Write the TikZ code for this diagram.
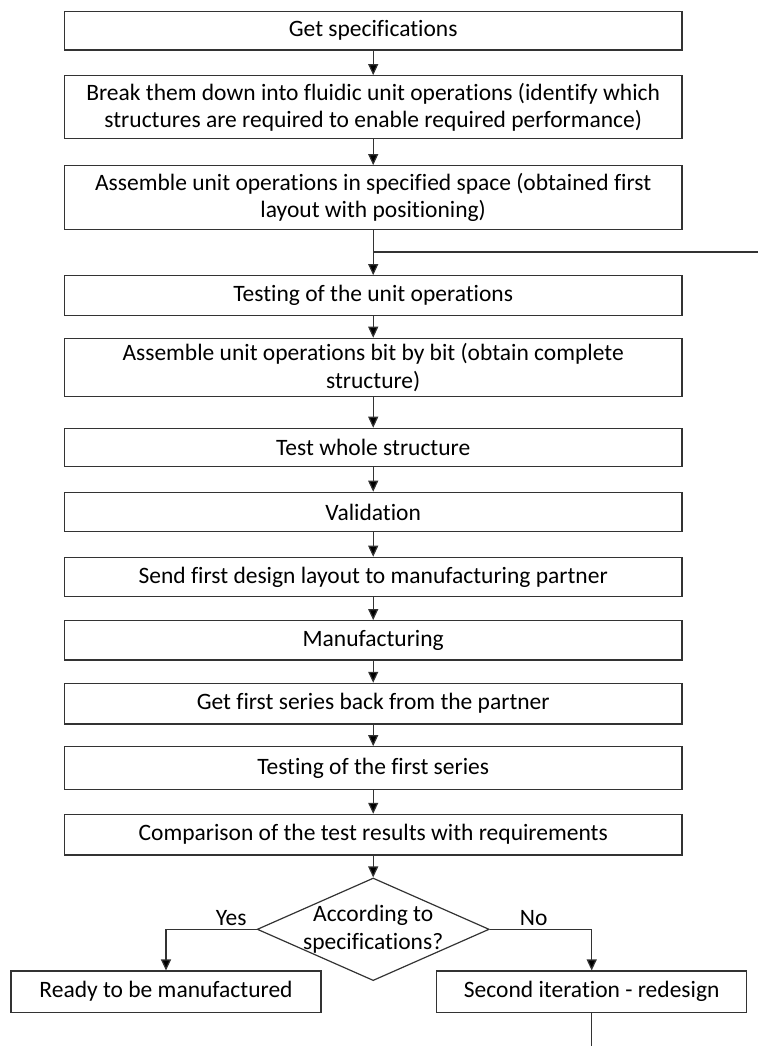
\documentclass[tikz,border=0pt]{standalone}
\usepackage{fontspec}
\setmainfont[Ligatures=CommonOff]{Carlito}
\usetikzlibrary{arrows.meta,shapes.geometric,positioning}

\begin{document}
\begin{tikzpicture}[x=1pt,y=-1pt,
  box/.style={draw=black!80, line width=1.2pt, minimum width=617.7pt, inner sep=0pt,
    align=center, font=\fontsize{23.5}{27.7}\selectfont},
  sidebox/.style={box, minimum width=310pt, minimum height=41.3pt},
  decision/.style={draw=black!80, line width=1.2pt, diamond, aspect=2.26, inner sep=0pt,
    minimum width=232pt, minimum height=102.6pt},
  txt/.style={align=center, font=\fontsize{23.5}{27.7}\selectfont},
  flow/.style={draw=black!80, line width=1.2pt, -{Triangle[length=11pt,width=10pt,fill=black]}},
  plain/.style={draw=black!80, line width=1.2pt}]
\useasboundingbox (0,0) rectangle (758,1046);

\node[box, minimum height=38.3pt] (spec) at (373.2,30.8) {Get specifications};
\node[box, minimum height=63pt] (split) at (373.2,107.2) {Break them down into fluidic unit operations (identify which\\structures are required to enable required performance)};
\node[box, minimum height=63.6pt] (layout) at (373.2,197.5) {Assemble unit operations in specified space (obtained first\\layout with positioning)};
\node[box, minimum height=40pt] (testunit) at (373.2,295.7) {Testing of the unit operations};
\node[box, minimum height=58.4pt] (bitbybit) at (373.2,367.5) {Assemble unit operations bit by bit (obtain complete\\structure)};
\node[box, minimum height=38.4pt] (testwhole) at (373.2,447.5) {Test whole structure};
\node[box, minimum height=39.4pt] (valid) at (373.2,512) {Validation};
\node[box, minimum height=39.4pt] (send) at (373.2,577) {Send first design layout to manufacturing partner};
\node[box, minimum height=39.3pt] (manuf) at (373.2,640.3) {Manufacturing};
\node[box, minimum height=40.7pt] (back) at (373.2,703.7) {Get first series back from the partner};
\node[box, minimum height=42.6pt] (testseries) at (373.2,768) {Testing of the first series};
\node[box, minimum height=40.7pt] (compare) at (373.2,834.7) {Comparison of the test results with requirements};

% decision
\node[decision] (dec) at (373.2,929.3) {};
\node[txt] (decq) at (dec.center) {According to\\specifications?};
\node[sidebox] (ready) at (166,991.7) {Ready to be manufactured};
\node[sidebox] (redesign) at (591.7,991.7) {Second iteration - redesign};

\coordinate (loop) at (373.2,252);
\coordinate (loopend) at (758,252);
\coordinate (out) at (591.7,1046);

\draw[flow] (spec) -- (split);
\draw[flow] (split) -- (layout);
\draw[flow] (layout) -- (testunit);
\draw[plain] (loop) -- (loopend);
\draw[flow] (testunit) -- (bitbybit);
\draw[flow] (bitbybit) -- (testwhole);
\draw[flow] (testwhole) -- (valid);
\draw[flow] (valid) -- (send);
\draw[flow] (send) -- (manuf);
\draw[flow] (manuf) -- (back);
\draw[flow] (back) -- (testseries);
\draw[flow] (testseries) -- (compare);
\draw[flow] (compare) -- (dec);
\draw[flow] (dec.west) -| node[txt, pos=0.14, above] {Yes} (ready);
\draw[flow] (dec.east) -| node[txt, pos=0.215, above] {No} (redesign);
\draw[plain] (redesign) -- (out);
\end{tikzpicture}
\end{document}
